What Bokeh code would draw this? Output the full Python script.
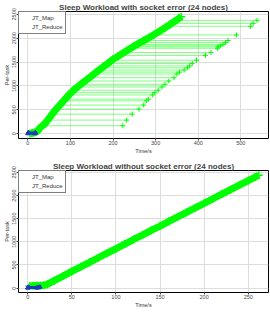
from bokeh.plotting import figure
from bokeh.layouts import column
from bokeh.models import FixedTicker, Range1d, Legend, LegendItem
from bokeh.embed import file_html
from bokeh.resources import INLINE

# ---------------- data ----------------
# Top chart: with socket error
top_title = "Sleep Workload with socket error (24 nodes)"
top_xticks = [0, 100, 200, 300, 400, 500]
top_yticks = [0, 500, 1000, 1500, 2000, 2500]
# dense band of short reduce tasks (time, task index)
top_band_t = [5, 10, 15, 20, 24, 28, 34, 40, 46, 52, 58, 63, 70, 77, 84, 91, 98, 105,
              112, 118, 128, 138, 148, 158, 168, 178, 189, 200, 212, 224, 236, 248,
              260, 272, 284, 296, 310, 322, 334, 346, 355, 360]
top_band_y = [5, 15, 25, 40, 70, 120, 165, 210, 280, 350, 420, 480, 550, 620, 690, 760,
              830, 890, 950, 990, 1060, 1130, 1200, 1270, 1340, 1410, 1480, 1560, 1625,
              1690, 1760, 1825, 1890, 1950, 2010, 2075, 2150, 2220, 2290, 2360, 2420, 2450]
# long reduce tasks (index, start, end)
top_long_y = [167, 285, 410, 515, 600, 688, 723, 812, 860, 910, 979, 1035, 1104, 1173,
              1250, 1290, 1333, 1381, 1420, 1473, 1540, 1640, 1702, 1790, 1819, 1840,
              1868, 1910, 1952, 2069, 2250, 2312, 2375]
top_long_start = [36, 46, 57, 66, 75, 83, 87, 96, 101, 106, 113, 121, 132, 142, 153, 159,
                  165, 172, 178, 186, 197, 214, 225, 242, 247, 251, 256, 264, 272, 294,
                  327, 337, 348]
top_long_end = [223, 232, 245, 261, 272, 278, 283, 293, 298, 306, 315, 322, 331, 343, 350,
                356, 367, 375, 380, 386, 396, 417, 430, 445, 447, 452, 458, 464, 470, 490,
                523, 529, 538]
# map tasks (index, start, end)
top_map_y = [3, 8, 13, 18, 23]
top_map_start = [0, 0, 1, 1, 1]
top_map_end = [15, 16, 17, 18, 18]

# Bottom chart: without socket error
bot_title = "Sleep Workload without socket error (24 nodes)"
bot_xticks = [0, 50, 100, 150, 200, 250]
bot_yticks = [0, 500, 1000, 1500, 2000, 2500]
bot_band_t = [2, 6, 10, 14, 18, 22, 30, 40, 50, 60, 70, 80, 90, 100, 110, 120, 130, 140,
              150, 160, 170, 180, 190, 200, 210, 220, 230, 240, 250, 258, 262]
bot_band_y = [45, 50, 55, 50, 60, 80, 160, 260, 360, 460, 555, 655, 755, 850, 950, 1050,
              1145, 1245, 1340, 1440, 1540, 1635, 1735, 1830, 1930, 2030, 2125, 2225,
              2320, 2400, 2440]
bot_map_y = [3, 8, 13, 18, 23]
bot_map_start = [0, 0, 0, 1, 1]
bot_map_end = [10, 11, 12, 13, 14]

GREEN = "#00FF00"
BLUE = "#2538C0"
FONT = "Liberation Sans"


def make_plot(title, xr, yr, xticks, yticks, band_t, band_y, long_y, long_s, long_e,
              map_y, map_s, map_e, height, top_border, bottom_border):
    p = figure(width=270, height=height, output_backend="svg", toolbar_location=None,
               x_range=Range1d(*xr), y_range=Range1d(*yr), title=title,
               min_border_left=0, min_border_right=2, min_border_top=top_border,
               min_border_bottom=bottom_border)
    p.background_fill_color = "white"
    p.border_fill_color = "white"
    p.outline_line_color = "black"
    p.outline_line_width = 1
    p.title.text_font = FONT
    p.title.text_font_size = "8px"
    p.title.text_font_style = "bold"
    p.title.align = "center"
    p.title.standoff = 0
    p.title.offset = 0

    p.xaxis.ticker = FixedTicker(ticks=xticks)
    p.yaxis.ticker = FixedTicker(ticks=yticks)
    p.xaxis.axis_label = "Time/s"
    p.yaxis.axis_label = "Per-task"
    p.yaxis.major_label_orientation = "vertical"
    for ax in (p.xaxis, p.yaxis):
        ax.axis_line_color = None
        ax.major_tick_out = 2
        ax.major_tick_in = 0
        ax.minor_tick_line_color = None
        ax.major_tick_line_color = "#444444"
        ax.major_label_text_font = FONT
        ax.major_label_text_font_size = "5.5px"
        ax.major_label_text_color = "#444444"
        ax.major_label_standoff = 0
        ax.axis_label_text_font = FONT
        ax.axis_label_text_font_size = "5.5px"
        ax.axis_label_text_font_style = "normal"
        ax.axis_label_text_color = "#333333"
        ax.axis_label_standoff = 0
    p.grid.grid_line_color = "#DDDDDD"
    p.grid.grid_line_width = 1

    # long reduce tasks
    if long_y:
        p.segment(x0=long_s, y0=long_y, x1=long_e, y1=long_y, line_color=GREEN,
                  line_alpha=0.5, line_width=1)
        p.scatter(long_e, long_y, marker="cross", size=5, line_color=GREEN, line_width=1)
    # dense band
    p.line(band_t, band_y, line_color=GREEN, line_width=7)
    p.scatter(band_t, band_y, marker="cross", size=8, line_color=GREEN, line_width=1.5)
    # map tasks
    p.segment(x0=map_s, y0=map_y, x1=map_e, y1=map_y, line_color=BLUE, line_width=2)
    p.scatter(map_s, map_y, marker="triangle", size=4, line_color=BLUE, fill_color=BLUE)
    p.scatter(map_e, map_y, marker="triangle", size=4, line_color=BLUE, fill_color=BLUE)

    # legend with black symbols
    r_map = p.scatter([], [], marker="triangle", size=5, line_color="black",
                      fill_color=None, line_width=1)
    r_red = p.scatter([], [], marker="cross", size=6, line_color="black", line_width=1)
    legend = Legend(items=[LegendItem(label="JT_Map", renderers=[r_map]),
                           LegendItem(label="JT_Reduce", renderers=[r_red])],
                    location="top_left")
    legend.margin = 0
    legend.padding = 2
    legend.spacing = 1
    legend.glyph_width = 8
    legend.glyph_height = 8
    legend.label_height = 8
    legend.label_standoff = 3
    legend.label_text_font = FONT
    legend.label_text_font_size = "6px"
    legend.label_text_color = "#333333"
    legend.border_line_color = "black"
    legend.border_line_width = 1
    legend.background_fill_alpha = 1
    p.add_layout(legend, "center")
    return p


p1 = make_plot(top_title, (-22, 565), (-100, 2560), top_xticks, top_yticks,
               top_band_t, top_band_y, top_long_y, top_long_start, top_long_end,
               top_map_y, top_map_start, top_map_end, 159, 10, 21)
p2 = make_plot(bot_title, (-10.5, 273), (-95, 2540), bot_xticks, bot_yticks,
               bot_band_t, bot_band_y, [], [], [],
               bot_map_y, bot_map_start, bot_map_end, 159, 8, 26)

layout = column(p1, p2, spacing=0)
open("out.html", "w").write(file_html(layout, INLINE))
